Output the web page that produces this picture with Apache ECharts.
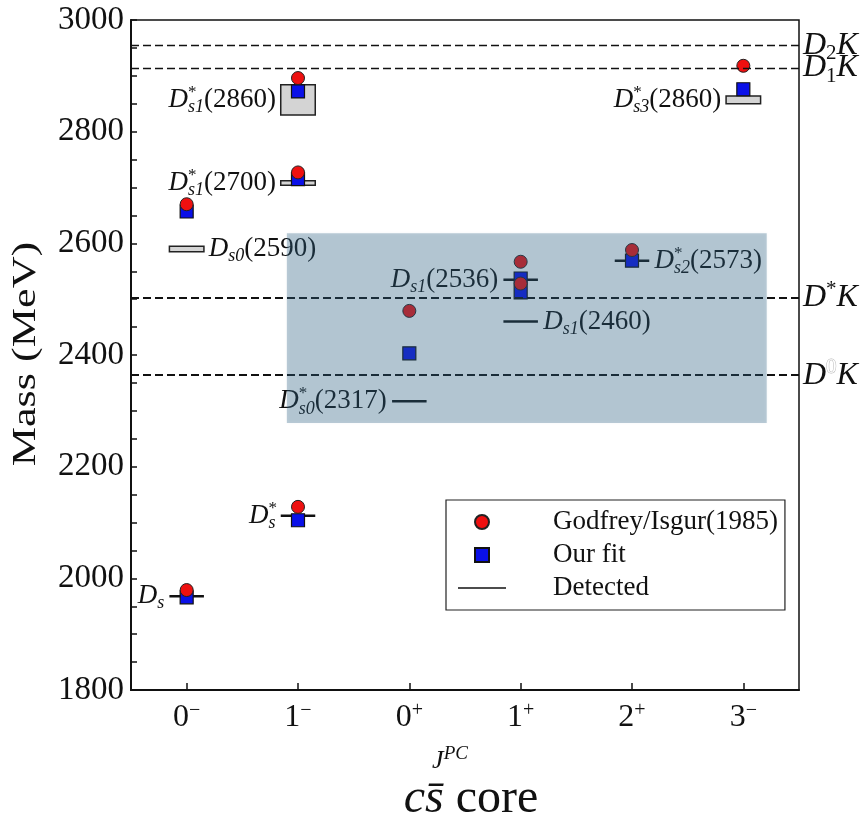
<!DOCTYPE html>
<html>
<head>
<meta charset="utf-8">
<script src="https://cdn.jsdelivr.net/npm/echarts@6/dist/echarts.min.js"></script>
<style>
  html, body { margin: 0; padding: 0; background: #fff; }
  #chart { width: 867px; height: 821px; }
</style>
</head>
<body>
<div id="chart"></div>
<script>
const SERIF = "'Liberation Serif', 'Times New Roman', serif";
const INK = '#111';

// J^PC categories on the x axis (value, parity superscript)
const categories = ['0', '1', '0', '1', '2', '3'];
const categoryParity = ['\u2212', '\u2212', '+', '+', '+', '\u2212'];

// mass axis range and step (MeV)
const massRange = [1800, 3000];
const massStep = 200;

// Godfrey/Isgur (1985) predictions: category index, mass (MeV)
const giX    = [0, 0, 1, 1, 1, 2, 3, 3, 4, 5];
const giMass = [1979, 2670, 2128, 2727, 2896, 2479, 2567, 2528, 2588, 2918];

// our fit
const fitX    = [0, 0, 1, 1, 1, 2, 3, 3, 4, 5];
const fitMass = [1966, 2657, 2104, 2715, 2872, 2403, 2537, 2512, 2569, 2876];

// detected states: category index, mass, uncertainty (0 = drawn as a bar)
const stateX    = [0, 1, 2, 3, 3, 4, 0, 1, 1, 5];
const stateMass = [1968, 2112, 2317, 2460, 2535, 2569, 2590, 2708, 2857, 2857];
const stateErr  = [0, 0, 0, 0, 0, 0, 5, 4, 27, 7];
const stateStar = [false, true, true, false, false, true, false, true, true, true];
const stateSub  = ['s', 's', 's0', 's1', 's1', 's2', 's0', 's1', 's1', 's3'];
const stateTag  = ['', '', '(2317)', '(2460)', '(2536)', '(2573)', '(2590)', '(2700)', '(2860)', '(2860)'];
const stateSide = ['left', 'left', 'left', 'right', 'left', 'right', 'right', 'left', 'left', 'left'];

// two-meson thresholds (MeV)
const thresholdMass  = [2955, 2914, 2503, 2364];
const thresholdLabel = [
  '{it|D}{sub|2}{it|K}',
  '{it|D}{sub|1}{it|K}',
  '{it|D}{sup|*}{it|K}',
  '{it|D}{hol|0}{it|K}'
];

// highlighted mass band: x range (category units), mass range (MeV)
const bandX    = [0.9, 5.21];
const bandMass = [2278, 2618];

const MARK_HALF = 0.155;

function stateText(i) {
  return '{it|D}' + (stateStar[i] ? '{sup|*}' : '') + '{sub|' + stateSub[i] + '}' +
    (stateTag[i] ? '{tag|' + stateTag[i] + '}' : '');
}

const STATE_RICH = {
  it:  { align: 'left', fontStyle: 'italic', fontSize: 27, fontFamily: SERIF, lineHeight: 32, fill: INK },
  sup: { align: 'left', fontSize: 17, fontFamily: SERIF, height: 17, lineHeight: 17, verticalAlign: 'top', width: 0, fill: INK },
  sub: { align: 'left', fontStyle: 'italic', fontSize: 18, fontFamily: SERIF, height: 17, lineHeight: 17, verticalAlign: 'bottom', fill: INK },
  tag: { align: 'left', fontSize: 27, fontFamily: SERIF, lineHeight: 32, fill: INK }
};

function renderState(params, api) {
  const i = params.dataIndex;
  const x = api.value(0), m = api.value(1), err = api.value(2);
  const half = api.size([MARK_HALF, 0])[0];
  const c = api.coord([x, m]);
  const label = {
    type: 'text',
    style: { text: stateText(i), fill: INK, fontSize: 27, fontFamily: SERIF, rich: STATE_RICH }
  };
  const cfg = { position: stateSide[i], distance: 4 };
  if (err > 0) {
    const top = api.coord([x, m + err])[1];
    const bottom = api.coord([x, m - err])[1];
    return {
      type: 'rect',
      shape: { x: c[0] - half, y: top, width: 2 * half, height: bottom - top },
      style: { fill: '#d4d4d4', stroke: '#222', lineWidth: 1.5 },
      textContent: label, textConfig: cfg
    };
  }
  return {
    type: 'line',
    shape: { x1: c[0] - half, y1: c[1], x2: c[0] + half, y2: c[1] },
    style: { stroke: INK, lineWidth: 2.5 },
    textContent: label, textConfig: cfg
  };
}

function renderBand(params, api) {
  const p0 = api.coord([api.value(0), api.value(3)]);
  const p1 = api.coord([api.value(1), api.value(2)]);
  return {
    type: 'rect',
    shape: { x: p0[0], y: p0[1], width: p1[0] - p0[0], height: p1[1] - p0[1] },
    style: { fill: 'rgba(45,95,132,0.32)', shadowBlur: 3, shadowColor: 'rgba(45,95,132,0.2)' }
  };
}

const chart = echarts.init(document.getElementById('chart'));

const option = {
  animation: false,
  backgroundColor: '#fff',
  textStyle: { fontFamily: SERIF },
  title: {
    text: '{i|cs\u0304} core',
    left: 466, top: 770, textAlign: 'center',
    textStyle: {
      fontSize: 48, fontFamily: SERIF, fontWeight: 'normal', color: INK,
      rich: { i: { fontSize: 48, fontFamily: SERIF, fontStyle: 'italic', color: INK } }
    }
  },
  graphic: [{
    type: 'text', x: 26, y: 354, rotation: Math.PI / 2, scaleX: 1.3, silent: true,
    style: { text: 'Mass (MeV)', fontSize: 34, fontFamily: SERIF, fill: INK, align: 'center', verticalAlign: 'middle' }
  }],
  grid: { left: 131, right: 68, top: 20, bottom: 131, show: true, borderColor: INK, borderWidth: 1.5 },
  legend: {
    orient: 'vertical', left: 446, top: 500,
    padding: [8, 7, 8, 12],
    backgroundColor: '#fff', borderColor: '#222', borderWidth: 1.2,
    itemWidth: 48, itemHeight: 14, itemGap: 5,
    selectedMode: false,
    data: [
      { name: 'Godfrey/Isgur(1985)', icon: 'circle' },
      { name: 'Our fit', icon: 'path://M0,0h10v10h-10z' },
      { name: 'Detected', icon: 'path://M0,0h48v1.5h-48z' }
    ],
    formatter: name => '{g| }' + name,
    textStyle: { fontSize: 27, fontFamily: SERIF, color: INK, lineHeight: 28, rich: { g: { width: 42 } } }
  },
  xAxis: {
    type: 'value', min: -0.5, max: 5.5,
    axisLine: { show: true, onZero: false, lineStyle: { color: INK, width: 2 } },
    axisTick: { show: true, inside: true, length: 7, customValues: [0, 1, 2, 3, 4, 5], lineStyle: { color: INK, width: 1.5 } },
    axisLabel: {
      customValues: [0, 1, 2, 3, 4, 5], margin: 10,
      formatter: v => '{n|' + categories[v] + '}{p|' + categoryParity[v] + '}',
      rich: {
        n: { fontSize: 32, fontFamily: SERIF, color: INK, lineHeight: 36 },
        p: { fontSize: 20, fontFamily: SERIF, color: INK, verticalAlign: 'top', height: 22, lineHeight: 22 }
      }
    },
    splitLine: { show: false },
    name: '{j|J}{s|PC}', nameLocation: 'middle', nameGap: 56,
    nameTextStyle: {
      padding: [0, 30, 0, 0],
      rich: {
        j: { fontSize: 26, fontFamily: SERIF, fontStyle: 'italic', color: INK, lineHeight: 30 },
        s: { fontSize: 19, fontFamily: SERIF, fontStyle: 'italic', color: INK, verticalAlign: 'top', height: 16, lineHeight: 16 }
      }
    }
  },
  yAxis: {
    type: 'value', min: massRange[0], max: massRange[1], interval: massStep,
    axisLine: { show: true, onZero: false, lineStyle: { color: INK, width: 2 } },
    axisTick: { inside: true, length: 6, lineStyle: { color: INK, width: 1.5 } },
    minorTick: { show: true, splitNumber: 4, length: 6, lineStyle: { color: INK, width: 1.5 } },
    axisLabel: { margin: 7, fontSize: 33, fontFamily: SERIF, color: INK, formatter: v => String(v) },
    splitLine: { show: false }
  },
  series: [
    {
      name: 'Detected', type: 'custom', z: 2,
      itemStyle: { color: INK },
      encode: { x: 0, y: 1 },
      data: stateX.map((x, i) => [x, stateMass[i], stateErr[i]]),
      renderItem: renderState
    },
    {
      name: 'Our fit', type: 'scatter', z: 3,
      symbol: 'rect', symbolSize: 13,
      itemStyle: { color: '#0a10e8', borderColor: INK, borderWidth: 1.2, opacity: 1 },
      data: fitX.map((x, i) => [x, fitMass[i]])
    },
    {
      name: 'Godfrey/Isgur(1985)', type: 'scatter', z: 4,
      symbol: 'circle', symbolSize: 13,
      itemStyle: { color: '#ee1010', borderColor: '#222', borderWidth: 1, opacity: 1 },
      data: giX.map((x, i) => [x, giMass[i]]),
      markLine: {
        silent: true, z: 6,
        symbol: ['none', 'none'],
        label: {
          show: true, position: 'end', distance: 4,
          formatter: p => thresholdLabel[p.dataIndex],
          rich: {
            it:  { fontSize: 32, fontFamily: SERIF, fontStyle: 'italic', color: INK, lineHeight: 34 },
            sub: { fontSize: 21, fontFamily: SERIF, color: INK, verticalAlign: 'bottom', height: 18, lineHeight: 18 },
            sup: { fontSize: 21, fontFamily: SERIF, color: INK, verticalAlign: 'top', height: 18, lineHeight: 18 },
            hol: { fontSize: 21, fontFamily: SERIF, color: '#fff', textBorderColor: '#b8b8b8', textBorderWidth: 1, verticalAlign: 'top', height: 18, lineHeight: 18 }
          }
        },
        data: thresholdMass.map((m, i) => ({
          yAxis: m,
          lineStyle: { color: INK, type: [8, 4], width: i < 2 ? 1.3 : 2 }
        }))
      }
    },
    {
      name: 'band', type: 'custom', z: 10, silent: true,
      encode: { x: [0, 1], y: [2, 3] },
      data: [[bandX[0], bandX[1], bandMass[0], bandMass[1]]],
      renderItem: renderBand
    }
  ]
};

chart.setOption(option);
</script>
</body>
</html>
